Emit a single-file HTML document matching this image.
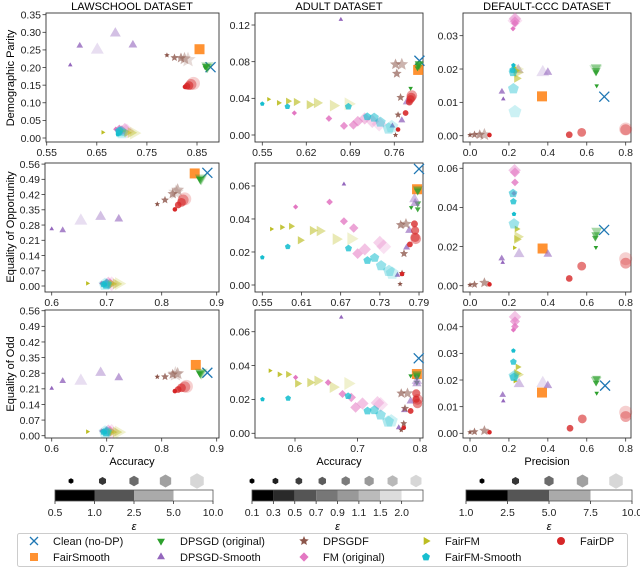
<!DOCTYPE html>
<html><head><meta charset="utf-8">
<style>
html,body{margin:0;padding:0;background:#fff;}
svg{display:block;font-family:"Liberation Sans","DejaVu Sans",sans-serif;}
</style></head>
<body>
<svg id="fig" width="640" height="568" viewBox="0 0 640 568" xmlns="http://www.w3.org/2000/svg">
<text x="132" y="10" font-size="11" text-anchor="middle" fill="#000">LAWSCHOOL DATASET</text>
<text x="339" y="10" font-size="11" text-anchor="middle" fill="#000">ADULT DATASET</text>
<text x="547" y="10" font-size="11" text-anchor="middle" fill="#000">DEFAULT-CCC DATASET</text>
<text transform="translate(14,78) rotate(-90)" font-size="11" text-anchor="middle">Demographic Parity</text>
<text transform="translate(14,227) rotate(-90)" font-size="11" text-anchor="middle">Equality of Opportunity</text>
<text transform="translate(14,374) rotate(-90)" font-size="11" text-anchor="middle">Equality of Odd</text>
<text x="132" y="465" font-size="11" text-anchor="middle">Accuracy</text>
<text x="339" y="465" font-size="11" text-anchor="middle">Accuracy</text>
<text x="547" y="465" font-size="11" text-anchor="middle">Precision</text>
<g id="panels"></g>
<g id="cbars"></g>
<g id="legend"></g>
</svg>
<script>
// ---- data (x = accuracy/precision, y = fairness metric), points ordered by increasing epsilon ----
const lawDP = {
  clean:[[0.877,0.201]], fairsmooth:[[0.855,0.252]],
  dpsgd:[[0.866,0.200],[0.868,0.203],[0.869,0.204],[0.870,0.202],[0.871,0.205]],
  dpsgdsmooth:[[0.597,0.207],[0.616,0.262],[0.722,0.264],[0.687,0.297],[0.651,0.250]],
  dpsgdf:[[0.790,0.235],[0.805,0.228],[0.818,0.227],[0.825,0.225],[0.832,0.222]],
  fm:[[0.688,0.025],[0.695,0.027],[0.700,0.022],[0.706,0.025],[0.710,0.020]],
  fairfm:[[0.662,0.016],[0.700,0.020],[0.710,0.015],[0.718,0.015],[0.724,0.014]],
  fairfmsmooth:[[0.692,0.010],[0.694,0.015],[0.695,0.020],[0.698,0.018],[0.700,0.015]],
  fairdp:[[0.826,0.145],[0.830,0.147],[0.834,0.149],[0.838,0.152],[0.843,0.155]]
};
const adultDP = {
  clean:[[0.800,0.081]], fairsmooth:[[0.798,0.071]],
  dpsgd:[[0.786,0.051],[0.797,0.073],[0.798,0.076],[0.799,0.078],[0.800,0.077]],
  dpsgdsmooth:[[0.675,0.126],[0.757,0.010],[0.772,0.016],[0.780,0.036]],
  dpsgdf:[[0.762,0.000],[0.766,0.022],[0.770,0.041],[0.764,0.067],[0.762,0.077],[0.772,0.077]],
  fm:[[0.601,0.024],[0.656,0.018],[0.680,0.010],[0.695,0.011],[0.702,0.015],[0.713,0.018],[0.725,0.015],[0.736,0.012]],
  fairfm:[[0.560,0.039],[0.576,0.035],[0.591,0.037],[0.604,0.036],[0.625,0.033],[0.637,0.035],[0.663,0.032],[0.687,0.034]],
  fairfmsmooth:[[0.550,0.034],[0.590,0.031],[0.687,0.031],[0.717,0.020],[0.728,0.019],[0.738,0.014],[0.751,0.007],[0.756,0.009]],
  fairdp:[[0.766,0.006],[0.778,0.024],[0.784,0.036],[0.786,0.039],[0.787,0.041],[0.788,0.043]]
};
const defDP = {
  clean:[[0.690,0.0117]], fairsmooth:[[0.370,0.0118]],
  dpsgd:[[0.651,0.0150],[0.648,0.0190],[0.648,0.0195],[0.648,0.0205],[0.646,0.0200]],
  dpsgdsmooth:[[0.171,0.0110],[0.164,0.0132],[0.400,0.0190],[0.248,0.0197],[0.374,0.0190]],
  dpsgdf:[[0.000,0.0002],[0.023,0.0003],[0.050,0.0003],[0.074,0.0003]],
  fm:[[0.221,0.0321],[0.231,0.0337],[0.231,0.0343],[0.231,0.0351],[0.231,0.0345]],
  fairfm:[[0.226,0.0205],[0.236,0.0195],[0.240,0.0172],[0.245,0.0190],[0.240,0.0200]],
  fairfmsmooth:[[0.223,0.0211],[0.219,0.0197],[0.221,0.0190],[0.223,0.0141],[0.231,0.0072]],
  fairdp:[[0.100,0.0002],[0.510,0.0003],[0.574,0.0010],[0.800,0.0018],[0.800,0.0020]]
};
const lawEOP = {
  clean:[[0.883,0.520]], fairsmooth:[[0.860,0.517]],
  dpsgd:[[0.868,0.495],[0.869,0.492],[0.870,0.490],[0.871,0.493],[0.872,0.496]],
  dpsgdsmooth:[[0.600,0.262],[0.620,0.256],[0.722,0.308],[0.689,0.318],[0.653,0.299]],
  dpsgdf:[[0.792,0.376],[0.806,0.395],[0.820,0.423],[0.829,0.441],[0.826,0.430]],
  fm:[[0.691,0.012],[0.700,0.016],[0.706,0.012],[0.703,0.014],[0.709,0.010]],
  fairfm:[[0.665,0.012],[0.706,0.010],[0.710,0.010],[0.717,0.010],[0.722,0.011]],
  fairfmsmooth:[[0.697,0.007],[0.694,0.008],[0.699,0.006],[0.700,0.008],[0.697,0.007]],
  fairdp:[[0.824,0.352],[0.830,0.372],[0.836,0.384],[0.839,0.395],[0.842,0.400]]
};
const adultEOP = {
  clean:[[0.790,0.0703]], fairsmooth:[[0.787,0.058]],
  dpsgd:[[0.778,0.047],[0.788,0.046],[0.788,0.0494],[0.788,0.057],[0.788,0.058]],
  dpsgdsmooth:[[0.675,0.0611],[0.757,0.006],[0.771,0.0227],[0.775,0.033],[0.784,0.0495],[0.783,0.052]],
  dpsgdf:[[0.761,0.0006],[0.764,0.0071],[0.767,0.019],[0.762,0.0364],[0.770,0.037]],
  fm:[[0.601,0.0473],[0.653,0.0503],[0.675,0.0386],[0.690,0.0345],[0.696,0.019],[0.707,0.0216],[0.730,0.0257],[0.736,0.0232]],
  fairfm:[[0.564,0.0339],[0.580,0.035],[0.594,0.0356],[0.608,0.0271],[0.627,0.033],[0.638,0.0327],[0.663,0.0278],[0.686,0.028]],
  fairfmsmooth:[[0.550,0.0167],[0.589,0.0232],[0.682,0.0222],[0.711,0.0149],[0.722,0.0165],[0.732,0.0117],[0.744,0.0085],[0.749,0.0071]],
  fairdp:[[0.764,0.0067],[0.776,0.0246],[0.783,0.037],[0.784,0.033],[0.784,0.0289],[0.785,0.028]]
};
const defEOP = {
  clean:[[0.689,0.0285]], fairsmooth:[[0.373,0.019]],
  dpsgd:[[0.647,0.0196],[0.644,0.0245],[0.646,0.026],[0.651,0.028]],
  dpsgdsmooth:[[0.168,0.0118],[0.163,0.0139],[0.400,0.0161],[0.252,0.0162]],
  dpsgdf:[[0.000,0.0004],[0.023,0.0006],[0.074,0.0015]],
  fm:[[0.226,0.0472],[0.231,0.0528],[0.231,0.0579],[0.229,0.0590]],
  fairfm:[[0.228,0.0194],[0.240,0.0290],[0.240,0.0237],[0.245,0.0250]],
  fairfmsmooth:[[0.226,0.0366],[0.223,0.043],[0.221,0.0472],[0.226,0.0316]],
  fairdp:[[0.100,0.0007],[0.510,0.0037],[0.574,0.0100],[0.800,0.0115],[0.800,0.0138]]
};
const lawEODD = {
  clean:[[0.883,0.282]], fairsmooth:[[0.862,0.317]],
  dpsgd:[[0.868,0.281],[0.869,0.279],[0.870,0.280],[0.871,0.282],[0.872,0.283]],
  dpsgdsmooth:[[0.600,0.212],[0.620,0.245],[0.722,0.260],[0.689,0.282],[0.653,0.245]],
  dpsgdf:[[0.792,0.264],[0.806,0.264],[0.820,0.275],[0.829,0.278],[0.825,0.276]],
  fm:[[0.691,0.021],[0.700,0.023],[0.706,0.021],[0.703,0.022],[0.709,0.019]],
  fairfm:[[0.665,0.018],[0.706,0.016],[0.710,0.016],[0.717,0.016],[0.722,0.016]],
  fairfmsmooth:[[0.697,0.016],[0.694,0.017],[0.699,0.015],[0.700,0.017],[0.697,0.016]],
  fairdp:[[0.824,0.200],[0.830,0.207],[0.836,0.215],[0.842,0.219],[0.845,0.221]]
};
const adultEODD = {
  clean:[[0.798,0.0443]], fairsmooth:[[0.795,0.035]],
  dpsgd:[[0.785,0.034],[0.795,0.030],[0.795,0.0331],[0.795,0.034],[0.795,0.035]],
  dpsgdsmooth:[[0.674,0.0685],[0.766,0.0034],[0.775,0.0137],[0.785,0.019],[0.795,0.0294],[0.795,0.031]],
  dpsgdf:[[0.770,0.0019],[0.774,0.0058],[0.776,0.0147],[0.770,0.0236],[0.780,0.0236]],
  fm:[[0.601,0.033],[0.653,0.030],[0.676,0.0232],[0.690,0.0212],[0.697,0.0153],[0.708,0.0176],[0.732,0.018],[0.737,0.017]],
  fairfm:[[0.560,0.037],[0.575,0.0348],[0.589,0.0348],[0.604,0.0294],[0.624,0.030],[0.636,0.031],[0.661,0.0273],[0.685,0.0294]],
  fairfmsmooth:[[0.548,0.0201],[0.589,0.0207],[0.685,0.022],[0.716,0.0132],[0.727,0.0137],[0.737,0.0108],[0.749,0.0069],[0.754,0.0073]],
  fairdp:[[0.774,0.0033],[0.785,0.0132],[0.794,0.0201],[0.794,0.0236],[0.796,0.0176],[0.796,0.020]]
};
const defEODD = {
  clean:[[0.694,0.0179]], fairsmooth:[[0.370,0.0153]],
  dpsgd:[[0.651,0.0151],[0.648,0.019],[0.650,0.0206],[0.648,0.020]],
  dpsgdsmooth:[[0.171,0.0121],[0.168,0.0144],[0.400,0.0179],[0.252,0.0185],[0.374,0.0188]],
  dpsgdf:[[0.000,0.0004],[0.023,0.0006],[0.074,0.0010]],
  fm:[[0.223,0.0388],[0.231,0.0401],[0.231,0.042],[0.231,0.0437]],
  fairfm:[[0.231,0.0196],[0.245,0.0249],[0.240,0.0225],[0.245,0.0220]],
  fairfmsmooth:[[0.223,0.031],[0.223,0.0268],[0.226,0.0211],[0.226,0.0215]],
  fairdp:[[0.100,0.0004],[0.514,0.0019],[0.577,0.0054],[0.800,0.0063],[0.800,0.0079]]
};
// ---- tick labels ----
const lawDPxTicks = ['0.55','0.65','0.75','0.85'];
const lawDPyTicks = ['0.00','0.05','0.10','0.15','0.20','0.25','0.30','0.35'];
const adultDPxTicks = ['0.55','0.62','0.69','0.76'];
const adultDPyTicks = ['0.00','0.04','0.08','0.12'];
const defXTicks = ['0.0','0.2','0.4','0.6','0.8'];
const defDPyTicks = ['0.00','0.01','0.02','0.03'];
const lawXTicks = ['0.6','0.7','0.8','0.9'];
const lawEOyTicks = ['0.00','0.07','0.14','0.21','0.28','0.35','0.42','0.49','0.56'];
const adultEOPxTicks = ['0.55','0.61','0.67','0.73','0.79'];
const adultEOyTicks = ['0.00','0.02','0.04','0.06'];
const defEOPyTicks = ['0.00','0.02','0.04','0.06'];
const adultEODDxTicks = ['0.6','0.7','0.8'];
const defEODDyTicks = ['0.00','0.01','0.02','0.03','0.04'];
const lawEps = ['0.5','1.0','2.5','5.0','10.0'];
const adultEps = ['0.1','0.3','0.5','0.7','0.9','1.1','1.5','2.0'];
const defEps = ['1.0','2.5','5.0','7.5','10.0'];

const NS='http://www.w3.org/2000/svg';
function mk(tag, attrs, parent){const e=document.createElementNS(NS,tag);for(const k in attrs)e.setAttribute(k,attrs[k]);if(parent)parent.appendChild(e);return e;}

const METHODS=[
 ['clean','#1f77b4','x','Clean (no-DP)'],
 ['fairsmooth','#ff7f0e','s','FairSmooth'],
 ['dpsgd','#2ca02c','v','DPSGD (original)'],
 ['dpsgdsmooth','#9467bd','^','DPSGD-Smooth'],
 ['dpsgdf','#8c564b','*','DPSGDF'],
 ['fm','#e377c2','D','FM (original)'],
 ['fairfm','#bcbd22','>','FairFM'],
 ['fairfmsmooth','#17becf','p','FairFM-Smooth'],
 ['fairdp','#d62728','o','FairDP']
];
function poly(cx,cy,r,n,rot){let p=[];for(let i=0;i<n;i++){const a=rot+i*2*Math.PI/n;p.push((cx+r*Math.cos(a)).toFixed(2)+','+(cy+r*Math.sin(a)).toFixed(2));}return p.join(' ');}
function star(cx,cy,r){let p=[];for(let i=0;i<10;i++){const a=-Math.PI/2+i*Math.PI/5;const rr=i%2?r*0.45:r;p.push((cx+rr*Math.cos(a)).toFixed(2)+','+(cy+rr*Math.sin(a)).toFixed(2));}return p.join(' ');}
function marker(g,shape,cx,cy,r,color,op){
  let e;
  if(shape==='x'){e=mk('path',{d:`M${cx-r},${cy-r}L${cx+r},${cy+r}M${cx-r},${cy+r}L${cx+r},${cy-r}`,stroke:color,'stroke-width':1.3,fill:'none',opacity:op},g);}
  else if(shape==='s'){e=mk('rect',{x:cx-r,y:cy-r,width:2*r,height:2*r,fill:color,opacity:op},g);}
  else if(shape==='o'){e=mk('circle',{cx:cx,cy:cy,r:r,fill:color,opacity:op},g);}
  else if(shape==='v'){e=mk('polygon',{points:poly(cx,cy,r*1.15,3,Math.PI/2),fill:color,opacity:op},g);}
  else if(shape==='^'){e=mk('polygon',{points:poly(cx,cy,r*1.15,3,-Math.PI/2),fill:color,opacity:op},g);}
  else if(shape==='>'){e=mk('polygon',{points:poly(cx,cy,r*1.15,3,0),fill:color,opacity:op},g);}
  else if(shape==='D'){e=mk('polygon',{points:poly(cx,cy,r*1.15,4,0),fill:color,opacity:op},g);}
  else if(shape==='p'){e=mk('polygon',{points:poly(cx,cy,r*1.05,5,-Math.PI/2),fill:color,opacity:op},g);}
  else if(shape==='*'){e=mk('polygon',{points:star(cx,cy,r*1.25),fill:color,opacity:op},g);}
  return e;
}

const PANELS=[
 {id:'law-dp',box:[46,219,13,142],xd:[0.5486,0.8939],yd:[0.3548,-0.01135],data:lawDP,xt:lawDPxTicks,yt:lawDPyTicks,n:5},
 {id:'adult-dp',box:[255,423,13,142],xd:[0.5384,0.8057],yd:[0.1331,-0.00764],data:adultDP,xt:adultDPxTicks,yt:adultDPyTicks,n:8},
 {id:'default-dp',box:[463,631,13,142],xd:[-0.036,0.8273],yd:[0.0368,-0.00189],data:defDP,xt:defXTicks,yt:defDPyTicks,n:5},
 {id:'law-eop',box:[45,219,163,292],xd:[0.5878,0.9042],yd:[0.565,-0.02756],data:lawEOP,xt:lawXTicks,yt:lawEOyTicks,n:5},
 {id:'adult-eop',box:[255,423,163,292],xd:[0.5388,0.7961],yd:[0.0739,-0.00424],data:adultEOP,xt:adultEOPxTicks,yt:adultEOyTicks,n:8},
 {id:'default-eop',box:[463,631,163,292],xd:[-0.036,0.8273],yd:[0.0627,-0.00322],data:defEOP,xt:defXTicks,yt:defEOPyTicks,n:5},
 {id:'law-eodd',box:[45,219,310,438],xd:[0.5878,0.9042],yd:[0.5632,-0.0103],data:lawEODD,xt:lawXTicks,yt:lawEOyTicks,n:5},
 {id:'adult-eodd',box:[255,423,310,438],xd:[0.536,0.8048],yd:[0.07283,-0.00278],data:adultEODD,xt:adultEODDxTicks,yt:adultEOyTicks,n:8},
 {id:'default-eodd',box:[463,631,310,438],xd:[-0.036,0.8273],yd:[0.04627,-0.00176],data:defEODD,xt:defXTicks,yt:defEODDyTicks,n:5}
];

const root=document.getElementById('panels');
PANELS.forEach(P=>{
  const g=mk('g',{},root);
  
  
  const [x0,x1,y0,y1]=P.box;
  const sx=v=>x0+(v-P.xd[0])/(P.xd[1]-P.xd[0])*(x1-x0);
  const sy=v=>y0+(v-P.yd[0])/(P.yd[1]-P.yd[0])*(y1-y0);
  const frame=mk('rect',{x:x0,y:y0,width:x1-x0,height:y1-y0,fill:'none',stroke:'#333','stroke-width':0.9},g);
  
  
  P.xt.forEach(t=>{const x=sx(parseFloat(t));
    mk('line',{x1:x,x2:x,y1:y1,y2:y1+3.5,stroke:'#333','stroke-width':0.8},g);
    const tx=mk('text',{x:x,y:y1+14,'font-size':10.5,'text-anchor':'middle',fill:'#222'},g);tx.textContent=t;
    
    
  });
  P.yt.forEach(t=>{const y=sy(parseFloat(t));
    mk('line',{x1:x0-3.5,x2:x0,y1:y,y2:y,stroke:'#333','stroke-width':0.8},g);
    const ty=mk('text',{x:x0-5,y:y+3.8,'font-size':10.5,'text-anchor':'end',fill:'#222'},g);ty.textContent=t;
    
    
  });
  METHODS.forEach(([key,color,shape])=>{
    const pts=P.data[key]||[];
    pts.forEach((pt,i)=>{
      let r,op;
      if(key==='clean'||key==='fairsmooth'){r=5;op=key==='clean'?1:0.85;}
      else{const f=i/(P.n-1);r=2.3+f*4.2;op=1-f*0.78;}
      const m=marker(g,shape,sx(pt[0]),sy(pt[1]),r,color,op);
      
      
    });
  });
});

// ---- epsilon colorbars ----
const cb=document.getElementById('cbars');
const CBARS=[
 {id:'law',x0:55,x1:213,ticks:lawEps,cols:['#000','#555','#aaa','#fff']},
 {id:'adult',x0:252,x1:423,ticks:adultEps,cols:['#000','#2a2a2a','#555','#777','#999','#bbb','#ddd','#fff']},
 {id:'default',x0:466,x1:632,ticks:defEps,cols:['#000','#555','#aaa','#fff']}
];
CBARS.forEach(C=>{
  const g=mk('g',{},cb);
  
  
  const n=C.cols.length, w=(C.x1-C.x0)/n;
  C.cols.forEach((c,i)=>mk('rect',{x:C.x0+i*w,y:490,width:w,height:11,fill:c},g));
  mk('rect',{x:C.x0,y:490,width:C.x1-C.x0,height:11,fill:'none',stroke:'#555','stroke-width':0.8},g);
  C.ticks.forEach((t,i)=>{const x=C.x0+i*w;
    mk('line',{x1:x,x2:x,y1:501,y2:504,stroke:'#333','stroke-width':0.8},g);
    const tx=mk('text',{x:x,y:516,'font-size':10.5,'text-anchor':'middle',fill:'#222'},g);tx.textContent=t;
    
    
  });
  const eps=mk('text',{x:(C.x0+C.x1)/2,y:530,'font-size':11,'font-style':'italic','text-anchor':'middle'},g);eps.textContent='ε';
  
  
  const nh=C.ticks.length, grays=[];
  for(let i=0;i<nh;i++){const f=i/(nh-1);const v=Math.round(f*215);grays.push(`rgb(${v},${v},${v})`);}
  const hx0=C.x0+ (C.id==='adult'?0:16), hx1=C.x1-(C.id==='adult'?7:16);
  for(let i=0;i<nh;i++){const f=i/(nh-1);
    const h=mk('polygon',{points:poly(hx0+f*(hx1-hx0),481,2.8+f*(C.id==='adult'?3.5:5),6,Math.PI/2),fill:grays[i]},g);
    
    
  }
});

// ---- legend ----
const lg=document.getElementById('legend');


mk('rect',{x:17.5,y:533.5,width:610,height:33,rx:2,fill:'#fff',stroke:'#ccc','stroke-width':1},lg);
const colX=[34,161,304,426,561];
METHODS.forEach(([key,color,shape,label],i)=>{
  const col=Math.floor(i/2), row=i%2;
  const cx=colX[col], cy=row?557:541;
  const ge=mk('g',{},lg);
  
  
  marker(ge,shape,cx,cy,4,color,key==='fairsmooth'?0.85:1);
  const t=mk('text',{x:cx+19,y:cy+4,'font-size':11,fill:'#111'},ge);t.textContent=label;
});
</script>
</body></html>
